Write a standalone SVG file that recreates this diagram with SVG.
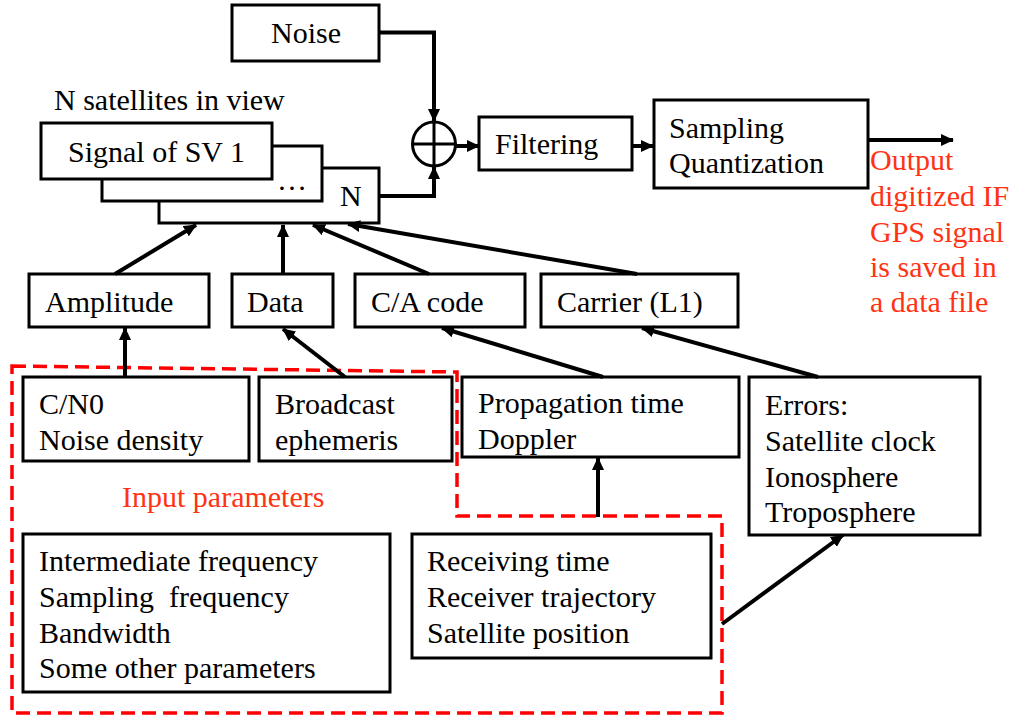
<svg xmlns="http://www.w3.org/2000/svg" width="1012" height="721" viewBox="0 0 1012 721">
<style>
  .box { fill: #fff; stroke: #000; stroke-width: 3; }
  .t { font-family: "Liberation Serif", "Times New Roman", serif; font-size: 30px; fill: #000; }
  .r { font-family: "Liberation Serif", "Times New Roman", serif; font-size: 30px; fill: #ff3314; }
  .c { fill: none; stroke: #000; stroke-width: 4; }
  .dash { fill: none; stroke: #ff0000; stroke-width: 3.5; stroke-dasharray: 14 7; }
</style>
<defs>
  <marker id="ah" markerUnits="userSpaceOnUse" markerWidth="13" markerHeight="12" refX="12" refY="6" orient="auto" viewBox="0 0 13 12">
    <path d="M0,0 L13,6 L0,12 z" fill="#000"/>
  </marker>
</defs>
<rect width="1012" height="721" fill="#fff"/>

<g id="input-region">
  <path class="dash" d="M12,366 L457,372 L457,516 L722,516 L722,713 L12,713 Z"/>
  <text class="r" x="122" y="507">Input parameters</text>
</g>

<g id="noise">
  <rect class="box" x="232" y="5" width="147" height="56"/>
  <text class="t" x="271" y="43">Noise</text>
</g>

<g id="satellites">
  <text class="t" x="54" y="110">N satellites in view</text>
  <rect class="box" x="159" y="168" width="220" height="55"/>
  <text class="t" x="340" y="206">N</text>
  <rect class="box" x="102" y="146" width="220" height="55"/>
  <text class="t" x="277" y="190">…</text>
  <rect class="box" x="41" y="123" width="231" height="56"/>
  <text class="t" x="68" y="162">Signal of SV 1</text>
</g>

<g id="sum">
  <ellipse cx="434" cy="144" rx="21.5" ry="22" fill="#fff" stroke="#000" stroke-width="3"/>
  <line x1="412.5" y1="144" x2="455.5" y2="144" stroke="#000" stroke-width="3"/>
  <line x1="434" y1="122" x2="434" y2="166" stroke="#000" stroke-width="3"/>
</g>

<g id="filtering">
  <rect class="box" x="479" y="117" width="153" height="53"/>
  <text class="t" x="495" y="154">Filtering</text>
</g>

<g id="sampling">
  <rect class="box" x="654" y="100" width="214" height="88"/>
  <text class="t" x="669" y="138">Sampling</text>
  <text class="t" x="669" y="173">Quantization</text>
</g>

<g id="output-note">
  <text class="r" x="870" y="170">Output</text>
  <text class="r" x="870" y="206">digitized IF</text>
  <text class="r" x="870" y="242">GPS signal</text>
  <text class="r" x="870" y="277">is saved in</text>
  <text class="r" x="870" y="312">a data file</text>
</g>

<g id="amplitude">
  <rect class="box" x="29" y="274" width="180" height="53"/>
  <text class="t" x="45" y="312">Amplitude</text>
</g>
<g id="data">
  <rect class="box" x="232" y="274" width="101" height="53"/>
  <text class="t" x="247" y="312">Data</text>
</g>
<g id="ca-code">
  <rect class="box" x="355" y="274" width="170" height="53"/>
  <text class="t" x="371" y="312">C/A code</text>
</g>
<g id="carrier">
  <rect class="box" x="541" y="274" width="197" height="53"/>
  <text class="t" x="557" y="312">Carrier (L1)</text>
</g>

<g id="cn0">
  <rect class="box" x="23" y="377" width="226" height="84"/>
  <text class="t" x="39" y="414">C/N0</text>
  <text class="t" x="39" y="450">Noise density</text>
</g>
<g id="ephemeris">
  <rect class="box" x="259" y="377" width="193" height="84"/>
  <text class="t" x="275" y="414">Broadcast</text>
  <text class="t" x="275" y="450">ephemeris</text>
</g>
<g id="propagation">
  <rect class="box" x="462" y="377" width="277" height="80"/>
  <text class="t" x="478" y="413">Propagation time</text>
  <text class="t" x="478" y="449">Doppler</text>
</g>
<g id="errors">
  <rect class="box" x="749" y="377" width="231" height="158"/>
  <text class="t" x="765" y="415">Errors:</text>
  <text class="t" x="765" y="451">Satellite clock</text>
  <text class="t" x="765" y="487">Ionosphere</text>
  <text class="t" x="765" y="522">Troposphere</text>
</g>
<g id="other-params">
  <rect class="box" x="23" y="534" width="367" height="158"/>
  <text class="t" x="39" y="571">Intermediate frequency</text>
  <text class="t" x="39" y="607">Sampling&#160; frequency</text>
  <text class="t" x="39" y="643">Bandwidth</text>
  <text class="t" x="39" y="678">Some other parameters</text>
</g>
<g id="receiver">
  <rect class="box" x="412" y="534" width="299" height="124"/>
  <text class="t" x="427" y="571">Receiving time</text>
  <text class="t" x="427" y="607">Receiver trajectory</text>
  <text class="t" x="427" y="643">Satellite position</text>
</g>

<g id="connectors">
  <path class="c" d="M379,32.5 L434,32.5 L434,121" marker-end="url(#ah)"/>
  <path class="c" d="M379,196 L434,196 L434,167" marker-end="url(#ah)"/>
  <line class="c" x1="456" y1="146" x2="479" y2="146" marker-end="url(#ah)"/>
  <line class="c" x1="632" y1="146" x2="653" y2="146" marker-end="url(#ah)"/>
  <line class="c" x1="868" y1="140" x2="953" y2="140" marker-end="url(#ah)"/>
  <line class="c" x1="115" y1="274" x2="196" y2="225" marker-end="url(#ah)"/>
  <line class="c" x1="283" y1="274" x2="283" y2="225" marker-end="url(#ah)"/>
  <line class="c" x1="429" y1="274" x2="313" y2="225" marker-end="url(#ah)"/>
  <line class="c" x1="637" y1="274" x2="348" y2="224" marker-end="url(#ah)"/>
  <line class="c" x1="125" y1="377" x2="125" y2="328" marker-end="url(#ah)"/>
  <line class="c" x1="345" y1="377" x2="283" y2="329" marker-end="url(#ah)"/>
  <line class="c" x1="603" y1="377" x2="442" y2="328" marker-end="url(#ah)"/>
  <line class="c" x1="818" y1="377" x2="642" y2="328" marker-end="url(#ah)"/>
  <line class="c" x1="598" y1="517" x2="598" y2="458" marker-end="url(#ah)"/>
  <line class="c" x1="722" y1="624" x2="843" y2="535" marker-end="url(#ah)"/>
</g>
</svg>
